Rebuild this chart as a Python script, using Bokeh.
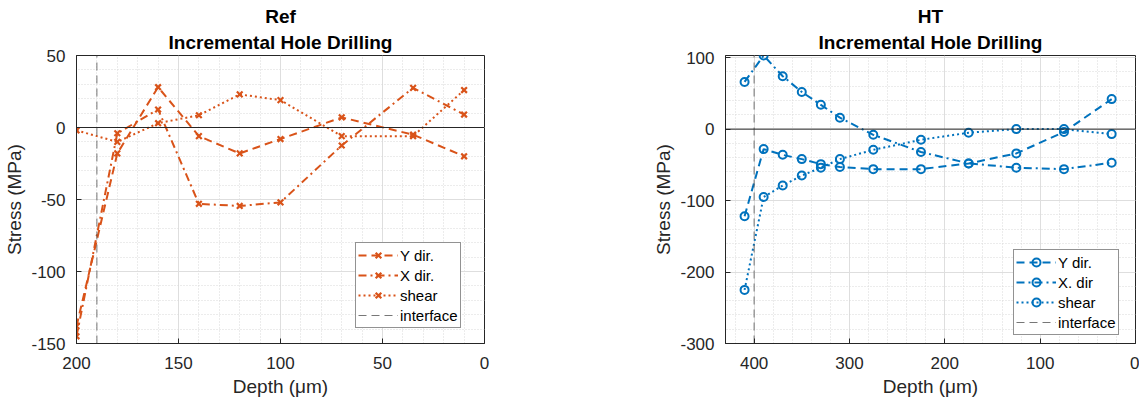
from bokeh.plotting import figure
from bokeh.layouts import row
from bokeh.models import Range1d, SingleIntervalTicker, Span, Title, NumeralTickFormatter
from bokeh.embed import file_html
from bokeh.resources import INLINE

# ---------------- data ----------------
depth_ref = [200, 180, 160, 140, 120, 100, 70, 35, 10]
ref_y_dir = [-138, -18, 28, -6, -18, -8, 7, -5, -20]
ref_x_dir = [-145, -4, 12.5, -53, -54.5, -52, -12.5, 27.5, 9]
ref_shear = [-2, -10, 3, 8.5, 23, 19, -6, -6, 26]
ref_interface = 190

depth_ht = [410, 390, 370, 350, 330, 310, 275, 225, 175, 125, 75, 25]
ht_y_dir = [-122, -28, -36, -42, -49, -53, -56, -56, -48, -34, -4, 42]
ht_x_dir = [66, 103, 74, 52, 34, 16, -8, -32, -48, -54, -56, -47]
ht_shear = [-225, -95, -79, -65, -54, -42, -29, -15, -5, 0, 0, -7]
ht_interface = 400

FONT = "Liberation Sans"
DARK = "#262626"


def make_fig(name, depth, ys, labels, color, marker, iface, xr, yr, xint, yint,
             width, border_left, border_right, legend_loc):
    p = figure(width=width, height=400, output_backend="svg", toolbar_location=None,
               x_range=Range1d(*xr), y_range=Range1d(*yr), title=None,
               min_border_left=border_left, min_border_right=border_right,
               min_border_top=55, min_border_bottom=57)
    p.add_layout(Title(text="Incremental Hole Drilling", align="center", text_font=FONT,
                       text_font_size="19px", text_font_style="bold", text_color="#000000",
                       standoff=6), "above")
    p.add_layout(Title(text=name, align="center", text_font=FONT,
                       text_font_size="19px", text_font_style="bold", text_color="#000000",
                       standoff=0), "above")

    p.xaxis.ticker = SingleIntervalTicker(interval=xint, num_minor_ticks=5)
    p.yaxis.ticker = SingleIntervalTicker(interval=yint, num_minor_ticks=5)
    for ax in (p.xaxis[0], p.yaxis[0]):
        ax.formatter = NumeralTickFormatter(format="0")
        ax.axis_line_color = DARK
        ax.major_tick_line_color = DARK
        ax.major_tick_in = 5
        ax.major_tick_out = 0
        ax.minor_tick_line_color = None
        ax.major_label_text_font = FONT
        ax.major_label_text_font_size = "17px"
        ax.major_label_text_color = DARK
        ax.axis_label_text_font = FONT
        ax.axis_label_text_font_size = "19px"
        ax.axis_label_text_font_style = "normal"
        ax.axis_label_text_color = DARK
    p.xaxis.major_label_standoff = 9
    p.xaxis.axis_label_standoff = 4
    p.yaxis.major_label_standoff = 7
    p.yaxis.axis_label_standoff = 3
    p.xaxis.axis_label = "Depth (μm)"
    p.yaxis.axis_label = "Stress (MPa)"

    for g in (p.xgrid[0], p.ygrid[0]):
        g.grid_line_color = "#dedede"
        g.grid_line_width = 1
        g.minor_grid_line_color = "#d8d8d8"
        g.minor_grid_line_dash = "1 2"
        g.minor_grid_line_width = 1

    p.outline_line_color = DARK
    p.outline_line_alpha = 1
    p.outline_line_width = 1
    p.background_fill_color = "white"
    p.border_fill_color = "white"

    p.add_layout(Span(location=0, dimension="width", line_color=DARK, line_width=1))

    dashes = ["8 5", "8 4 2 4", "2 3"]
    for vals, lab, dash in zip(ys, labels, dashes):
        p.line(depth, vals, line_color=color, line_width=2, line_dash=dash, legend_label=lab)
        if marker == "x":
            p.scatter(depth, vals, marker="x", size=8, line_color=color, line_width=2.2,
                      legend_label=lab)
        else:
            p.scatter(depth, vals, marker="circle", size=8, line_color=color, line_width=2,
                      fill_color=None, legend_label=lab)
    p.line([iface, iface], [yr[0], yr[1]], line_color="#555555", line_width=1,
           line_dash="8 5", line_alpha=0.8, legend_label="interface")

    lg = p.legend[0]
    lg.location = legend_loc
    lg.label_text_font = FONT
    lg.label_text_font_size = "15px"
    lg.label_text_color = "#000000"
    lg.glyph_width = 40
    lg.glyph_height = 20
    lg.label_height = 20
    lg.label_standoff = 2
    lg.spacing = 0
    lg.padding = 2
    lg.margin = 0
    lg.border_line_color = DARK
    lg.border_line_width = 1
    lg.background_fill_alpha = 1
    return p


p1 = make_fig("Ref", depth_ref, [ref_y_dir, ref_x_dir, ref_shear],
              ["Y dir.", "X dir.", "shear"], "#D95319", "x", ref_interface,
              (200, 0), (-150, 50), 50, 50, 568, 76, 84, (279, 15))
p2 = make_fig("HT", depth_ht, [ht_y_dir, ht_x_dir, ht_shear],
              ["Y dir.", "X. dir", "shear"], "#0072BD", "o", ht_interface,
              (430, 0), (-300, 103), 100, 100, 571, 157, 4, (288, 8))

layout = row(p1, p2)
open("out.html", "w").write(file_html(layout, INLINE))
